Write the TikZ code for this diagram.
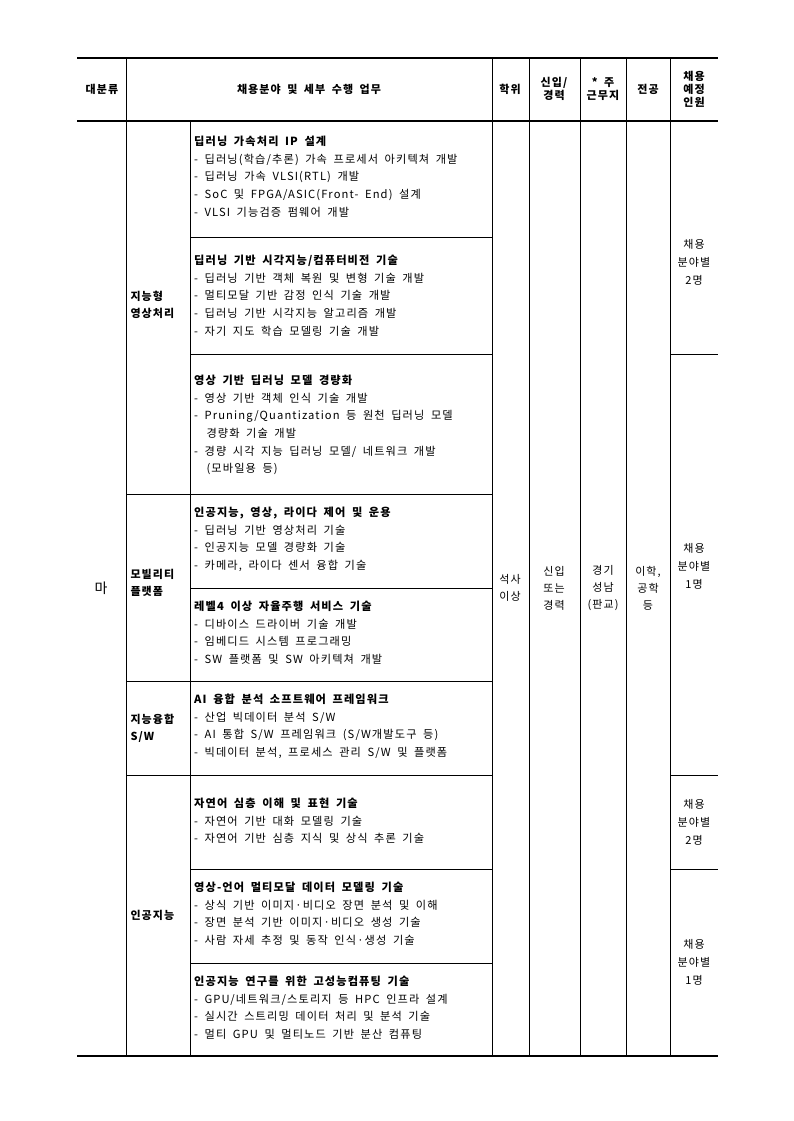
\documentclass[tikz,border=0pt]{standalone}
\usepackage{fontspec}
\setmainfont[LetterSpace=10,WordSpace=1.8]{Noto Sans CJK KR}
\usetikzlibrary{positioning}
\tikzset{
    grid/.style={line width=0.7pt},
    heavy/.style={line width=1.2pt},
    head/.style={font=\fontsize{11}{13}\selectfont\bfseries, align=center},
    cell/.style={font=\fontsize{11}{13}\selectfont, align=center},
    group/.style={font=\fontsize{11}{17}\selectfont\bfseries, align=left, anchor=west},
    task/.style={font=\fontsize{11.2}{17.6}\selectfont, align=left, anchor=north west, inner sep=0pt}}
\newcommand{\ttl}[1]{\textbf{#1}}
\begin{document}
\begin{tikzpicture}[x=1pt,y=-1pt]
\useasboundingbox (0,0) rectangle (793,1121);
% frame
\draw[heavy] (77,58) -- (718,58);
\draw[heavy] (77,121) -- (718,121);
\draw[heavy] (77,1056) -- (718,1056);
\foreach \x in {126,492,529,580,626,670}
    \draw[grid] (\x,58) -- (\x,1056);
\draw[grid] (190,121) -- (190,1056);
\foreach \y in {494,681,775}
    \draw[grid] (126,\y) -- (190,\y);
\foreach \y in {237,354,494,588,681,775,869,963}
    \draw[grid] (190,\y) -- (492,\y);
\foreach \y in {354,775,869}
    \draw[grid] (670,\y) -- (718,\y);
% header
\node[head] (h1) at (102,89) {대분류};
\node[head] (h2) at (309,89) {채용분야 및 세부 수행 업무};
\node[head] (h3) at (510,89) {학위};
\node[head] (h4) at (554,89) {신입/\\경력};
\node[head] (h5) at (603,89) {* 주\\근무지};
\node[head] (h6) at (648,89) {전공};
\node[head] (h7) at (694,89) {채용\\예정\\인원};
% groups
\node[font=\fontsize{14}{16}\selectfont] (ma) at (101,588) {마};
\node[group] (g1) at (127,305) {지능형\\영상처리};
\node[group] (g2) at (127,583) {모빌리티\\플랫폼};
\node[group] (g3) at (127,728) {지능융합\\S/W};
\node[group] (g4) at (127,915) {인공지능};
% common columns
\node[cell, font=\fontsize{11}{17}\selectfont] (deg) at (510,588) {석사\\이상};
\node[cell, font=\fontsize{11}{17}\selectfont] (car) at (554,588) {신입\\또는\\경력};
\node[cell, font=\fontsize{11}{17}\selectfont] (loc) at (603,588) {경기\\성남\\(판교)};
\node[cell, font=\fontsize{11}{17}\selectfont] (maj) at (648,588) {이학,\\공학\\등};
\node[cell, font=\fontsize{11}{18}\selectfont] (n1) at (694,262) {채용\\분야별\\2명};
\node[cell, font=\fontsize{11}{18}\selectfont] (n2) at (694,566) {채용\\분야별\\1명};
\node[cell, font=\fontsize{11}{18}\selectfont] (n3) at (694,822) {채용\\분야별\\2명};
\node[cell, font=\fontsize{11}{18}\selectfont] (n4) at (694,962) {채용\\분야별\\1명};
% tasks
\node[task] (t1) at (194,136) {\ttl{딥러닝 가속처리 IP 설계}\\
- 딥러닝(학습/추론) 가속 프로세서 아키텍쳐 개발\\
- 딥러닝 가속 VLSI(RTL) 개발\\
- SoC 및 FPGA/ASIC(Front- End) 설계\\
- VLSI 기능검증 펌웨어 개발};
\node[task] (t2) at (194,255) {\ttl{딥러닝 기반 시각지능/컴퓨터비전 기술}\\
- 딥러닝 기반 객체 복원 및 변형 기술 개발\\
- 멀티모달 기반 감정 인식 기술 개발\\
- 딥러닝 기반 시각지능 알고리즘 개발\\
- 자기 지도 학습 모델링 기술 개발};
\node[task] (t3) at (194,375) {\ttl{영상 기반 딥러닝 모델 경량화}\\
- 영상 기반 객체 인식 기술 개발\\
- Pruning/Quantization 등 원천 딥러닝 모델\\
\hspace*{1.1em}경량화 기술 개발\\
- 경량 시각 지능 딥러닝 모델/ 네트워크 개발\\
\hspace*{1.1em}(모바일용 등)};
\node[task] (t4) at (194,507) {\ttl{인공지능, 영상, 라이다 제어 및 운용}\\
- 딥러닝 기반 영상처리 기술\\
- 인공지능 모델 경량화 기술\\
- 카메라, 라이다 센서 융합 기술};
\node[task] (t5) at (194,601) {\ttl{레벨4 이상 자율주행 서비스 기술}\\
- 디바이스 드라이버 기술 개발\\
- 임베디드 시스템 프로그래밍\\
- SW 플랫폼 및 SW 아키텍쳐 개발};
\node[task] (t6) at (194,694) {\ttl{AI 융합 분석 소프트웨어 프레임워크}\\
- 산업 빅데이터 분석 S/W\\
- AI 통합 S/W 프레임워크 (S/W개발도구 등)\\
- 빅데이터 분석, 프로세스 관리 S/W 및 플랫폼};
\node[task] (t7) at (194,798) {\ttl{자연어 심층 이해 및 표현 기술}\\
- 자연어 기반 대화 모델링 기술\\
- 자연어 기반 심층 지식 및 상식 추론 기술};
\node[task] (t8) at (194,882) {\ttl{영상-언어 멀티모달 데이터 모델링 기술}\\
- 상식 기반 이미지·비디오 장면 분석 및 이해\\
- 장면 분석 기반 이미지·비디오 생성 기술\\
- 사람 자세 추정 및 동작 인식·생성 기술};
\node[task] (t9) at (194,976) {\ttl{인공지능 연구를 위한 고성능컴퓨팅 기술}\\
- GPU/네트워크/스토리지 등 HPC 인프라 설계\\
- 실시간 스트리밍 데이터 처리 및 분석 기술\\
- 멀티 GPU 및 멀티노드 기반 분산 컴퓨팅};
\end{tikzpicture}
\end{document}
